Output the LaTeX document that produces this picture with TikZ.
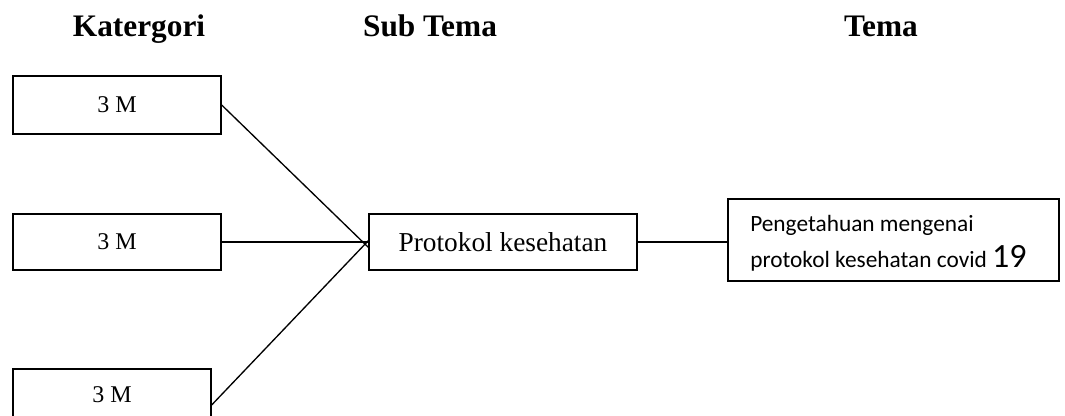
\documentclass[tikz,border=0pt]{standalone}
\usepackage{fontspec}
\setmainfont{Liberation Serif}
\newfontfamily\calibri{Carlito}
\begin{document}
\begin{tikzpicture}[x=0.75pt,y=-0.75pt,
  box/.style={draw, line width=1pt, rectangle, inner sep=0pt},
  conn/.style={line width=1pt},
  head/.style={font=\bfseries\fontsize{23.5}{27}\selectfont, inner sep=0pt, anchor=base},
  small/.style={font=\fontsize{18}{22}\selectfont},
  mid/.style={font=\fontsize{20.5}{24}\selectfont}]
\path[use as bounding box, clip] (0,0) rectangle (1065,416);

% headings
\node[head] (h1) at (139,37) {Katergori};
\node[head] (h2) at (430,37) {Sub Tema};
\node[head] (h3) at (881,37) {Tema};

% category boxes
\node[box, small, minimum width=208*0.75pt, minimum height=58*0.75pt] (b1) at (117,105) {3 M};
\node[box, small, minimum width=208*0.75pt, minimum height=56*0.75pt] (b2) at (117,242) {3 M};
\node[box, small, minimum width=198*0.75pt, minimum height=52*0.75pt] (b3) at (112,395) {3 M};

% sub theme
\node[box, mid, minimum width=268*0.75pt, minimum height=56*0.75pt] (p) at (503,242) {Protokol kesehatan};

% theme
\node[box, minimum width=331*0.75pt, minimum height=82*0.75pt] (t) at (893.5,240) {};
\begin{scope}
  \clip (728,199) rectangle (1059,270.5);
  \node[anchor=base west, inner sep=0pt, align=left, font=\calibri\fontsize{17.5}{27}\selectfont] (tt) at (750,268)
    {Pengetahuan mengenai\\protokol kesehatan covid {\fontsize{25.5}{28}\selectfont 19}};
\end{scope}

% connectors
\draw[conn] (b1.east) -- ([yshift=-4pt]p.west);
\draw[conn] (b2.east) -- (p.west);
\draw[conn] ([yshift=-7.5pt]b3.east) -- ([yshift=1pt]p.west);
\draw[conn] (p.east) -- (p.east -| t.west);
\end{tikzpicture}
\end{document}
